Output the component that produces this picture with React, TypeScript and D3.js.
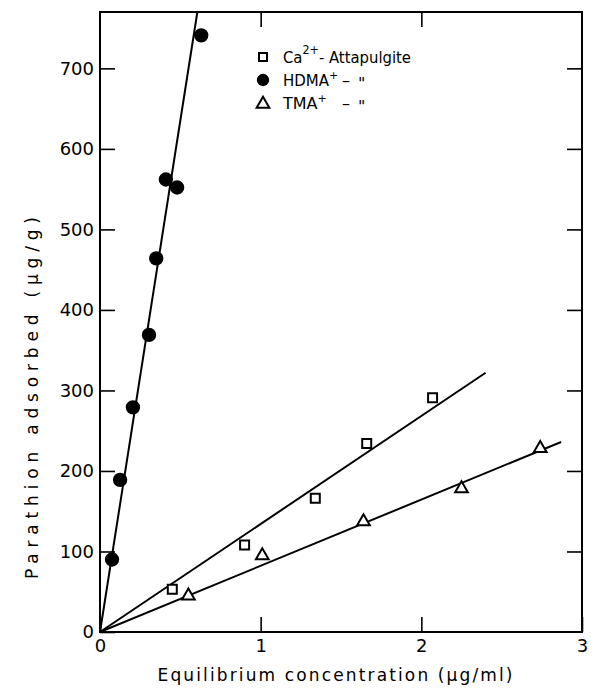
import React, { useEffect, useRef } from 'react';
import * as d3 from 'd3';

// Ca2+-Attapulgite (open squares)
const caX = [0.45, 0.9, 1.34, 1.66, 2.07];
const caY = [53, 108, 166, 234, 291];
// HDMA+ (filled circles)
const hdmaX = [0.075, 0.125, 0.205, 0.305, 0.35, 0.41, 0.48, 0.63];
const hdmaY = [90, 189, 279, 369, 464, 562, 552, 741];
// TMA+ (open triangles)
const tmaX = [0.55, 1.01, 1.64, 2.25, 2.74];
const tmaY = [45, 95, 137, 178, 228];

// fitted lines, start and end points
const caLine: [number, number][] = [[0, 0], [2.4, 322]];
const hdmaLine: [number, number][] = [[0, 0], [0.606, 770]];
const tmaLine: [number, number][] = [[0, 0], [2.87, 236]];

const xTicks = [0, 1, 2, 3];
const yTicks = [0, 100, 200, 300, 400, 500, 600, 700];

const FONT = '"DejaVu Sans", sans-serif';

const App = () => {
  const ref = useRef<SVGSVGElement>(null);

  useEffect(() => {
    const svg = d3.select(ref.current);
    svg.selectAll('*').remove();

    const left = 100, right = 582, top = 12, bottom = 632;
    const x = d3.scaleLinear().domain([0, 3]).range([left, right]);
    const y = d3.scaleLinear().domain([0, 770]).range([bottom, top]);

    // frame
    svg.append('rect')
      .attr('x', left).attr('y', top)
      .attr('width', right - left).attr('height', bottom - top)
      .attr('fill', 'none').attr('stroke', '#000').attr('stroke-width', 2);

    const styleAxis = (g: any) => {
      g.select('.domain').remove();
      g.selectAll('line').attr('stroke', '#000').attr('stroke-width', 1.6);
      g.selectAll('text').attr('font-family', FONT).attr('font-size', 18).attr('fill', '#000');
    };

    svg.append('g')
      .attr('transform', `translate(${left},0)`)
      .call(d3.axisLeft(y).tickValues(yTicks).tickSize(-15).tickPadding(6).tickFormat(d3.format('d')))
      .call(styleAxis);
    svg.append('g')
      .attr('transform', `translate(${right},0)`)
      .call(d3.axisRight(y).tickValues(yTicks.slice(1)).tickSize(-15).tickFormat(() => ''))
      .call(styleAxis);
    svg.append('g')
      .attr('transform', `translate(0,${bottom})`)
      .call(d3.axisBottom(x).tickValues(xTicks).tickSize(-15).tickPadding(7).tickFormat(d3.format('d')))
      .call(styleAxis);
    svg.append('g')
      .attr('transform', `translate(0,${top})`)
      .call(d3.axisTop(x).tickValues(xTicks.slice(1, 3)).tickSize(-15).tickFormat(() => ''))
      .call(styleAxis);

    // axis titles
    svg.append('text')
      .attr('x', 335).attr('y', 681)
      .attr('text-anchor', 'middle')
      .attr('font-family', FONT).attr('font-size', 17)
      .attr('textLength', 355).attr('lengthAdjust', 'spacing')
      .text('Equilibrium concentration (μg/ml)');
    svg.append('text')
      .attr('transform', 'translate(38,398) rotate(-90)')
      .attr('text-anchor', 'middle')
      .attr('font-family', FONT).attr('font-size', 17)
      .attr('textLength', 362).attr('lengthAdjust', 'spacing')
      .text('Parathion adsorbed (μg/g)');

    // fitted lines
    const line = d3.line<[number, number]>().x((d) => x(d[0])).y((d) => y(d[1]));
    [caLine, hdmaLine, tmaLine].forEach((l) => {
      svg.append('path').attr('d', line(l)).attr('fill', 'none')
        .attr('stroke', '#000').attr('stroke-width', 2);
    });

    const square = d3.symbol(d3.symbolSquare, 81)();
    const circle = d3.symbol(d3.symbolCircle, 120)();
    const triangle = d3.symbol(d3.symbolTriangle, 70)();

    const drawPoints = (xs: number[], ys: number[], path: string | null, filled: boolean) => {
      svg.append('g').selectAll('path')
        .data(xs.map((v, i) => [v, ys[i]]))
        .enter().append('path')
        .attr('d', path)
        .attr('transform', (d) => `translate(${x(d[0])},${y(d[1])})`)
        .attr('fill', filled ? '#000' : '#fff')
        .attr('stroke', '#000').attr('stroke-width', 2);
    };
    drawPoints(caX, caY, square, false);
    drawPoints(hdmaX, hdmaY, circle, true);
    drawPoints(tmaX, tmaY, triangle, false);

    // legend
    const lg = svg.append('g').attr('font-family', FONT).attr('font-size', 16);
    const lx = 263;
    lg.append('path').attr('d', d3.symbol(d3.symbolSquare, 64)()).attr('transform', `translate(${lx},57)`)
      .attr('fill', '#fff').attr('stroke', '#000').attr('stroke-width', 2);
    lg.append('path').attr('d', circle).attr('transform', `translate(${lx},80)`)
      .attr('fill', '#000');
    lg.append('path').attr('d', triangle).attr('transform', `translate(${lx},104)`)
      .attr('fill', '#fff').attr('stroke', '#000').attr('stroke-width', 2);

    const t1 = lg.append('text').attr('x', 283).attr('y', 63)
      .attr('textLength', 128).attr('lengthAdjust', 'spacingAndGlyphs');
    t1.append('tspan').text('Ca');
    t1.append('tspan').attr('dy', -9).attr('font-size', 12).text('2+');
    t1.append('tspan').attr('dy', 9).text('- Attapulgite');

    const t2 = lg.append('text').attr('x', 283).attr('y', 86).attr('font-size', 15);
    t2.append('tspan').text('HDMA');
    t2.append('tspan').attr('dy', -7).attr('font-size', 11).text('+');
    lg.append('text').attr('x', 342).attr('y', 86).text('–');
    lg.append('text').attr('x', 358).attr('y', 89).text('"');

    const t3 = lg.append('text').attr('x', 283).attr('y', 109);
    t3.append('tspan').text('TMA');
    t3.append('tspan').attr('dy', -7).attr('font-size', 11).text('+');
    lg.append('text').attr('x', 342).attr('y', 109).text('–');
    lg.append('text').attr('x', 358).attr('y', 112).text('"');
  }, []);

  return (
    <svg
      ref={ref}
      width={595}
      height={689}
      style={{ position: 'absolute', left: 0, top: 0, background: '#fff' }}
    />
  );
};

export default App;
